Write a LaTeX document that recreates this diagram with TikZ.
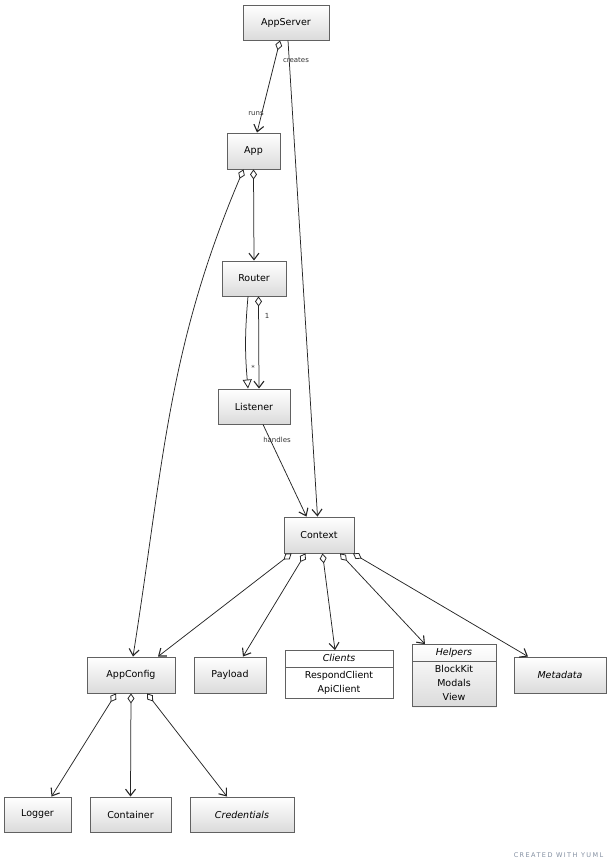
\documentclass[tikz,border=0pt]{standalone}
\usepackage{fontspec}
\setmainfont{DejaVu Sans}
\usetikzlibrary{arrows.meta,shapes.multipart,shadows}
\begin{document}
\begin{tikzpicture}[x=1pt,y=-1pt,
  cls/.style={rectangle, draw=black!62, line width=0.9pt, top color=white, bottom color=black!14,
    font=\fontsize{9.5}{12}\selectfont, inner sep=0pt, minimum height=35pt,
    drop shadow={shadow xshift=0.7pt, shadow yshift=-0.7pt, opacity=0.45, fill=black!70}},
  splitbox/.style={rectangle split, rectangle split parts=2, draw=black!62, line width=0.9pt,
    font=\fontsize{9.5}{14}\selectfont, inner xsep=0pt, inner ysep=1pt},
  lbl/.style={font=\fontsize{7}{8}\selectfont, text=black!80, inner sep=0pt},
  conn/.style={draw=black!85, line width=0.75pt},
  arr/.style={conn, -{Straight Barb[length=6.5pt,width=10pt,line width=1.1pt]}},
  agg/.style={conn, {Diamond[open,length=10pt,width=7pt,line width=0.8pt]}-{Straight Barb[length=6.5pt,width=10pt,line width=1.1pt]}},
  inh/.style={conn, -{Triangle[open,length=9pt,width=9pt,line width=0.8pt]}}
]
\useasboundingbox (0,0) rectangle (610,868);

% classes
\node[cls, minimum width=86pt] (appserver) at (286,22.5) {AppServer};
\node[cls, minimum width=53pt, minimum height=36pt] (app) at (253.5,151) {App};
\node[cls, minimum width=64pt] (router) at (254,278.5) {Router};
\node[cls, minimum width=72pt] (listener) at (254,406.5) {Listener};
\node[cls, minimum width=70pt, minimum height=36pt] (context) at (319,535) {Context};
\node[cls, minimum width=88pt, minimum height=36pt] (appconfig) at (131,675) {AppConfig};
\node[cls, minimum width=72pt, minimum height=36pt] (payload) at (230,675) {Payload};
\node[splitbox, fill=white, minimum width=108pt] (clients) at (339,674.5)
  {\begin{tabular}{@{}c@{}}\itshape Clients\end{tabular}\nodepart{two}\begin{tabular}{@{}c@{}}RespondClient\\ApiClient\end{tabular}};
\node[splitbox, top color=white, bottom color=black!14, minimum width=84pt,
  drop shadow={shadow xshift=0.7pt, shadow yshift=-0.7pt, opacity=0.45, fill=black!70}] (helpers) at (454,675.5)
  {\begin{tabular}{@{}c@{}}\itshape Helpers\end{tabular}\nodepart{two}\begin{tabular}{@{}c@{}}BlockKit\\Modals\\View\end{tabular}};
\node[cls, minimum width=92pt, minimum height=36pt] (metadata) at (560,675) {\itshape Metadata};
\node[cls, minimum width=67pt] (logger) at (37.5,814.5) {Logger};
\node[cls, minimum width=81pt] (container) at (130.5,814.5) {Container};
\node[cls, minimum width=104pt] (credentials) at (242,814.5) {\itshape Credentials};

% connectors
\draw[agg] ([xshift=-6pt]appserver.south) -- ([xshift=3.5pt]app.north);
\node[lbl] (lcreates) at (296,60) {creates};
\node[lbl] (lruns) at (256,114) {runs};
\draw[arr] ([xshift=2pt]appserver.south) -- ([xshift=-1.5pt]context.north);

\draw[agg] ([xshift=-10pt]app.south) to[out=-113,in=81] ([xshift=2pt]appconfig.north);
\draw[agg] (app.south) -- (router.north);

\draw[inh] ([xshift=-6pt]router.south) to[bend right=5] ([xshift=-6pt]listener.north);
\draw[agg] ([xshift=4.5pt]router.south) -- ([xshift=5pt]listener.north);
\node[lbl] (lone) at (267,316) {1};
\node[lbl] (lstar) at (253,368) {*};

\draw[arr] ([xshift=9pt]listener.south) -- ([xshift=-12.5pt]context.north);
\node[lbl] (lhandles) at (277,440) {handles};

\draw[agg] ([xshift=-27.5pt]context.south) -- ([xshift=27pt]appconfig.north);
\draw[agg] ([xshift=-13.5pt]context.south) -- ([xshift=13pt]payload.north);
\draw[agg] ([xshift=3.5pt]context.south) -- ([xshift=-4pt]clients.north);
\draw[agg] ([xshift=21pt]context.south) -- ([xshift=-29pt]helpers.north);
\draw[agg] ([xshift=34pt]context.south) -- ([xshift=-32pt]metadata.north);

\draw[agg] ([xshift=-15pt]appconfig.south) -- ([xshift=14pt]logger.north);
\draw[agg] (appconfig.south) -- (container.north);
\draw[agg] ([xshift=16pt]appconfig.south) -- ([xshift=-15pt]credentials.north);

\node[font=\fontsize{6.5}{7}\selectfont\addfontfeature{LetterSpace=22}, text={rgb,255:red,130;green,142;blue,160}, inner sep=0pt] (yuml) at (558.5,855) {CREATED WITH YUML};
\end{tikzpicture}
\end{document}
